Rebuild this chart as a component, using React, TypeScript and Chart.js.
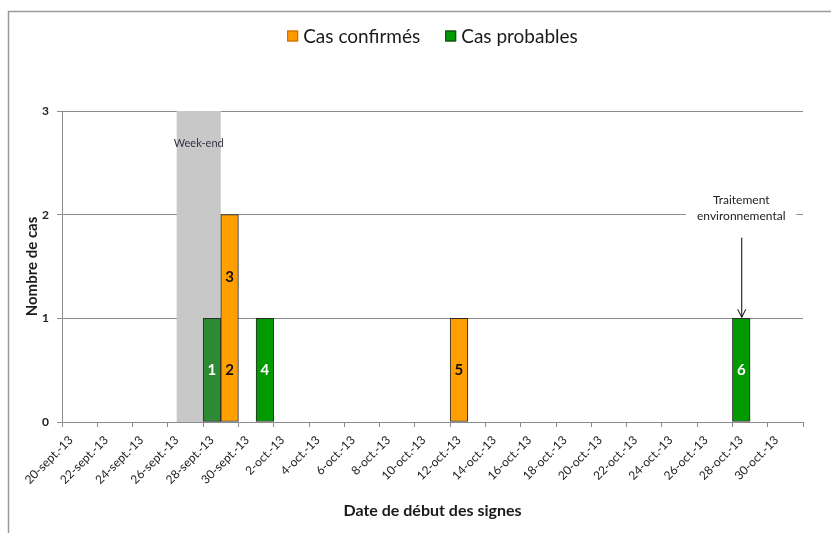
import React, { useEffect, useRef } from 'react';
import { Chart, registerables } from 'chart.js';

Chart.register(...registerables);

// ---- Data ----
const dates: string[] = [
  '20-sept.-13', '21-sept.-13', '22-sept.-13', '23-sept.-13', '24-sept.-13', '25-sept.-13',
  '26-sept.-13', '27-sept.-13', '28-sept.-13', '29-sept.-13', '30-sept.-13',
  '1-oct.-13', '2-oct.-13', '3-oct.-13', '4-oct.-13', '5-oct.-13', '6-oct.-13', '7-oct.-13',
  '8-oct.-13', '9-oct.-13', '10-oct.-13', '11-oct.-13', '12-oct.-13', '13-oct.-13',
  '14-oct.-13', '15-oct.-13', '16-oct.-13', '17-oct.-13', '18-oct.-13', '19-oct.-13',
  '20-oct.-13', '21-oct.-13', '22-oct.-13', '23-oct.-13', '24-oct.-13', '25-oct.-13',
  '26-oct.-13', '27-oct.-13', '28-oct.-13', '29-oct.-13', '30-oct.-13', '31-oct.-13',
];

const casConfirmes: number[] = [
  0, 0, 0, 0, 0, 0, 0, 0, 0, 2, 0, // 20-30 sept
  0, 0, 0, 0, 0, 0, 0, 0, 0, 0, // 1-10 oct
  0, 1, 0, 0, 0, 0, 0, 0, 0, 0, // 11-20 oct
  0, 0, 0, 0, 0, 0, 0, 0, 0, 0, 0, // 21-31 oct
];

const casProbables: number[] = [
  0, 0, 0, 0, 0, 0, 0, 0, 1, 0, 0,
  1, 0, 0, 0, 0, 0, 0, 0, 0, 0,
  0, 0, 0, 0, 0, 0, 0, 0, 0, 0,
  0, 0, 0, 0, 0, 0, 0, 1, 0, 0, 0,
];

const yTicks: number[] = [0, 1, 2, 3];

// case numbers written inside the bars
const caseNumbers: number[] = [1, 2, 3, 4, 5, 6];
const caseDates: string[] = ['28-sept.-13', '29-sept.-13', '29-sept.-13', '1-oct.-13', '12-oct.-13', '28-oct.-13'];
const caseLabelAt: number[] = [0.5, 0.5, 1.4, 0.5, 0.5, 0.5];
const caseStatus: string[] = ['probable', 'confirmed', 'confirmed', 'probable', 'confirmed', 'probable'];

const weekendFrom = '26-sept.-13';
const weekendTo = '28-sept.-13';
const weekendLabel = 'Week-end';

const annotationDate = '28-oct.-13';
const annotationLines: string[] = ['Traitement', 'environnemental'];
const annotationValue = 2;

const darkGreenDates: string[] = ['28-sept.-13'];

// ---- Styles ----
const FONT = 'Lato, "Open Sans", sans-serif';
const ORANGE = '#FFA000';
const GREEN = '#009A00';
const DARK_GREEN = '#2E8B33';
const GRID = '#8C8C8C';
const TEXT = '#1A1A1A';

const decorPlugin = {
  id: 'decor',
  beforeDatasetsDraw(chart: any) {
    const { ctx, chartArea } = chart;
    const x = chart.scales.x;
    const y = chart.scales.y;
    ctx.save();
    // weekend shading
    const i0 = dates.indexOf(weekendFrom);
    const i1 = dates.indexOf(weekendTo);
    const left = x.getPixelForValue(i0);
    const right = x.getPixelForValue(i1 + 0.5);
    ctx.fillStyle = '#C8C8C8';
    ctx.fillRect(left, chartArea.top, right - left, chartArea.bottom - chartArea.top);
    ctx.fillStyle = '#333344';
    ctx.font = `11px ${FONT}`;
    ctx.textAlign = 'center';
    ctx.textBaseline = 'middle';
    ctx.fillText(weekendLabel, (left + right) / 2, chartArea.top + 32);

    // annotation text with white background
    const ax = x.getPixelForValue(dates.indexOf(annotationDate));
    const ay = y.getPixelForValue(annotationValue);
    ctx.font = `12px ${FONT}`;
    let maxW = 0;
    annotationLines.forEach((l) => { maxW = Math.max(maxW, ctx.measureText(l).width); });
    ctx.fillStyle = '#FFFFFF';
    ctx.fillRect(ax - maxW / 2 - 11, ay - 24, maxW + 22, 34);
    ctx.fillStyle = '#222222';
    annotationLines.forEach((l, k) => {
      ctx.fillText(l, ax, ay - 15 + k * 16);
    });
    // arrow
    const barTop = y.getPixelForValue(casProbables[dates.indexOf(annotationDate)]);
    ctx.strokeStyle = '#000000';
    ctx.lineWidth = 1;
    ctx.beginPath();
    ctx.moveTo(ax + 0.5, ay + 23);
    ctx.lineTo(ax + 0.5, barTop - 1);
    ctx.moveTo(ax - 3.5, barTop - 9);
    ctx.lineTo(ax + 0.5, barTop - 1);
    ctx.lineTo(ax + 4.5, barTop - 9);
    ctx.stroke();
    ctx.restore();
  },
  afterDatasetsDraw(chart: any) {
    const { ctx } = chart;
    const x = chart.scales.x;
    const y = chart.scales.y;
    ctx.save();
    ctx.font = `bold 15px ${FONT}`;
    ctx.textAlign = 'center';
    ctx.textBaseline = 'middle';
    caseNumbers.forEach((n, k) => {
      const px = x.getPixelForValue(dates.indexOf(caseDates[k]));
      const py = y.getPixelForValue(caseLabelAt[k]);
      ctx.fillStyle = caseStatus[k] === 'probable' ? '#FFFFFF' : '#111111';
      ctx.fillText(String(n), px, py);
    });
    ctx.restore();
  },
  afterDraw(chart: any) {
    const { ctx } = chart;
    ctx.save();
    // outer frame (top and left edges)
    ctx.strokeStyle = '#9A9A9A';
    ctx.lineWidth = 1.5;
    ctx.beginPath();
    ctx.moveTo(8.5, 533);
    ctx.lineTo(8.5, 11.5);
    ctx.lineTo(831, 11.5);
    ctx.stroke();

    // legend
    ctx.font = `19px ${FONT}`;
    ctx.textBaseline = 'middle';
    ctx.textAlign = 'left';
    const items = chart.data.datasets.map((d: any) => ({
      label: d.label as string,
      color: d.legendColor as string,
      border: d.legendBorder as string,
    }));
    const box = 11;
    const gap = 5;
    const spacing = 25;
    let total = 0;
    items.forEach((it: any, k: number) => {
      total += box + gap + ctx.measureText(it.label).width + (k > 0 ? spacing : 0);
    });
    const cx = (chart.chartArea.left + chart.chartArea.right) / 2;
    let lx = cx - total / 2;
    const ly = 36;
    items.forEach((it: any) => {
      ctx.fillStyle = it.color;
      ctx.fillRect(lx, ly - box / 2, box, box);
      ctx.strokeStyle = it.border;
      ctx.lineWidth = 1;
      ctx.strokeRect(lx + 0.5, ly - box / 2 + 0.5, box - 1, box - 1);
      ctx.fillStyle = TEXT;
      ctx.fillText(it.label, lx + box + gap, ly + 1);
      lx += box + gap + ctx.measureText(it.label).width + spacing;
    });
    ctx.restore();
  },
};

export default function App() {
  const ref = useRef<HTMLCanvasElement>(null);

  useEffect(() => {
    if (!ref.current) return;
    const probableColors = dates.map((d) => (darkGreenDates.includes(d) ? DARK_GREEN : GREEN));
    const chart = new Chart(ref.current, {
      type: 'bar',
      data: {
        labels: dates,
        datasets: [
          {
            label: 'Cas confirmés',
            data: casConfirmes,
            backgroundColor: ORANGE,
            borderColor: '#2A2A2A',
            borderWidth: 1,
            borderSkipped: false,
            categoryPercentage: 1,
            barPercentage: 1,
            legendColor: '#FF9900',
            legendBorder: '#C06A00',
          } as any,
          {
            label: 'Cas probables',
            data: casProbables,
            backgroundColor: probableColors,
            borderColor: '#2A2A2A',
            borderWidth: 1,
            borderSkipped: false,
            categoryPercentage: 1,
            barPercentage: 1,
            legendColor: '#009900',
            legendBorder: '#1A3A1A',
          } as any,
        ],
      },
      options: {
        responsive: false,
        animation: false,
        devicePixelRatio: 1,
        layout: { padding: { top: 111, right: 28, left: 0, bottom: 0 } },
        plugins: {
          legend: { display: false },
          tooltip: { enabled: false },
        },
        scales: {
          x: {
            stacked: true,
            offset: true,
            afterFit: (scale: any) => { scale.height = 111; },
            grid: {
              offset: true,
              drawOnChartArea: false,
              drawTicks: true,
              tickLength: 5,
              color: (c: any) => (c.index === undefined || c.index % 2 === 0 ? GRID : 'rgba(0,0,0,0)'),
            },
            border: { display: true, color: GRID, width: 1 },
            ticks: {
              autoSkip: false,
              maxRotation: 45,
              minRotation: 45,
              padding: 6,
              color: '#222222',
              font: { family: FONT, size: 12 },
              callback: function (this: any, value: any, index: number) {
                return index % 2 === 0 ? this.getLabelForValue(value) : '';
              },
            },
            title: {
              display: true,
              text: 'Date de début des signes',
              color: TEXT,
              font: { family: FONT, size: 16, weight: 'bold' },
              padding: { top: 0, bottom: 13 },
            },
          },
          y: {
            stacked: true,
            min: yTicks[0],
            max: yTicks[yTicks.length - 1],
            afterFit: (scale: any) => { scale.width = 62; },
            afterBuildTicks: (scale: any) => { scale.ticks = yTicks.map((v) => ({ value: v })); },
            grid: {
              color: GRID,
              lineWidth: 1,
              drawTicks: true,
              tickLength: 5,
            },
            border: { display: true, color: GRID, width: 1 },
            ticks: {
              stepSize: 1,
              padding: 8,
              color: '#222222',
              font: { family: FONT, size: 12, weight: 'bold' },
            },
            title: {
              display: true,
              text: 'Nombre de cas',
              color: TEXT,
              font: { family: FONT, size: 15, weight: 'bold' },
              padding: { top: 23, bottom: 0 },
            },
          },
        },
      } as any,
      plugins: [decorPlugin],
    });
    return () => chart.destroy();
  }, []);

  return (
    <div style={{ position: 'absolute', left: 0, top: 0, width: 831, height: 533, background: '#FFFFFF' }}>
      <canvas ref={ref} width={831} height={533} />
    </div>
  );
}
